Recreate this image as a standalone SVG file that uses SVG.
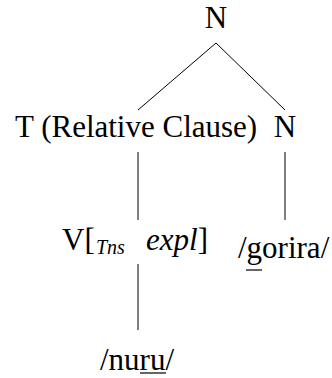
<svg xmlns="http://www.w3.org/2000/svg" width="332" height="378" viewBox="0 0 332 378">
<rect width="332" height="378" fill="#fff"/>
<g id="edges" stroke="#000" stroke-width="1" fill="none">
<line x1="216" y1="43" x2="138" y2="110"/>
<line x1="216" y1="43" x2="285" y2="110"/>
<line x1="138" y1="152" x2="138" y2="220"/>
<line x1="285" y1="152" x2="285" y2="220"/>
<line x1="138" y1="264" x2="138" y2="330"/>
</g>
<g id="n-root"><text x="216" y="28" text-anchor="middle" font-family="Times New Roman, Liberation Serif, serif" font-size="31">N</text></g>
<g id="t-rel"><text x="15" y="137" font-family="Times New Roman, Liberation Serif, serif" font-size="31">T (Relative Clause)</text></g>
<g id="n-right"><text x="285" y="137" text-anchor="middle" font-family="Times New Roman, Liberation Serif, serif" font-size="31">N</text></g>
<g id="v-node"><text x="62" y="250" font-family="Times New Roman, Liberation Serif, serif" font-size="31">V[<tspan x="96" dy="4" font-size="20" font-style="italic">Tns</tspan><tspan x="146" dy="-4" font-style="italic">expl</tspan>]</text></g>
<g id="gorira"><text x="238" y="258" font-family="Times New Roman, Liberation Serif, serif" font-size="31">/gorira/</text><line x1="246" y1="270" x2="262" y2="270" stroke="#000" stroke-width="1.2"/></g>
<g id="nuru"><text x="100" y="370" font-family="Times New Roman, Liberation Serif, serif" font-size="31">/nuru/</text><line x1="140" y1="373" x2="166" y2="373" stroke="#000" stroke-width="1.2"/></g>
</svg>
